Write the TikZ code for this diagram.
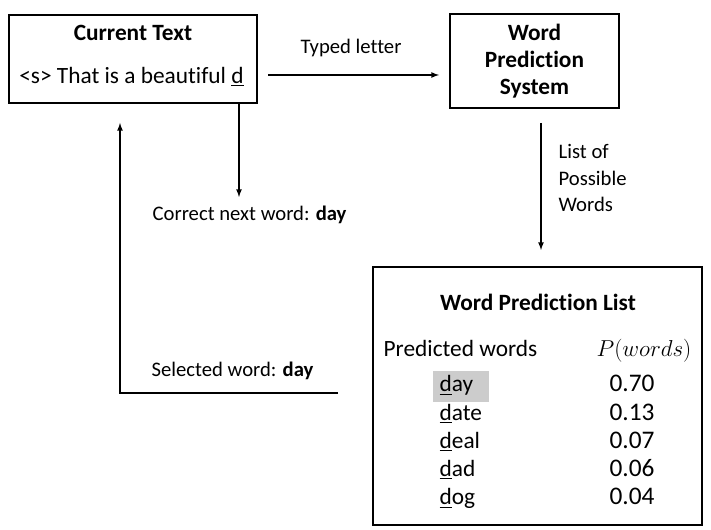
\documentclass[tikz,border=0pt]{standalone}
\usepackage{fontspec}
\setmainfont{Carlito}[Ligatures={NoCommon}]
\usetikzlibrary{positioning}
\tikzset{
  box/.style={draw, line width=1.5pt},
  lbl/.style={font=\fontsize{15.5}{20}\selectfont},
  body/.style={font=\fontsize{17.5}{21}\selectfont},
  head/.style={font=\fontsize{17.5}{21}\selectfont\bfseries},
  num/.style={font=\fontsize{19}{23}\selectfont},
}
\begin{document}
\begin{tikzpicture}[x=0.75pt,y=-0.75pt,>=latex,line width=1pt]
\useasboundingbox (0,0) rectangle (711,530);

\draw[box] (9,15) rectangle (257,103);
\node[head] (curtitle) at (133,33) {Current Text};
\node[body] (curline) at (131.5,77) {<s> That is a beautiful \underline{d}};

\node[box,head,align=center,minimum width=126.75pt,minimum height=70.5pt,inner sep=0pt] (wps) at (534.5,61) {Word\\[-0.5pt]Prediction\\[-0.5pt]System};

\draw[box] (373,267) rectangle (702,525);
\node[head] (listtitle) at (538,302) {Word Prediction List};
\node[body,anchor=base west,inner sep=0pt] (colw) at (383,357) {Predicted words};
\node[body,anchor=base,inner sep=0pt,font=\fontsize{19}{23}\selectfont] (colp) at (644,357) {$P(words)$};
\fill[gray!40] (433,371) rectangle (489,402);
\foreach \rest/\p [count=\i] in {ay/0.70,ate/0.13,eal/0.07,ad/0.06,og/0.04}{
  \node[body,anchor=base west,inner sep=0pt] (w\i) at (439,{392+28.2*(\i-1)}) {\underline{d}\rest};
  \node[num,anchor=base,inner sep=0pt] (p\i) at (632,{392+28.2*(\i-1)}) {\p};
}

\node[lbl] (typed) at (351,48) {Typed letter};
\coordinate (typs) at (268,75);
\coordinate (type) at (439,75);
\draw[->] (typs) -- (type);

\node[lbl,align=left,anchor=west,inner sep=0pt] (poss) at (558,178) {List of\\Possible\\Words};
\coordinate (poss1) at (541,123);
\coordinate (poss2) at (541,250);
\draw[->] (poss1) -- (poss2);

\node[lbl,anchor=west,inner sep=0pt] (correct) at (152,215) {Correct next word: \textbf{day}};
\coordinate (cor1) at (239,103);
\coordinate (cor2) at (239,197);
\draw[->] (cor1) -- (cor2);

\node[lbl,anchor=west,inner sep=0pt] (selected) at (151,371) {Selected word: \textbf{day}};
\coordinate (sel1) at (338,393);
\coordinate (sel2) at (120,123);
\draw[->] (sel1) -| (sel2);
\end{tikzpicture}
\end{document}
